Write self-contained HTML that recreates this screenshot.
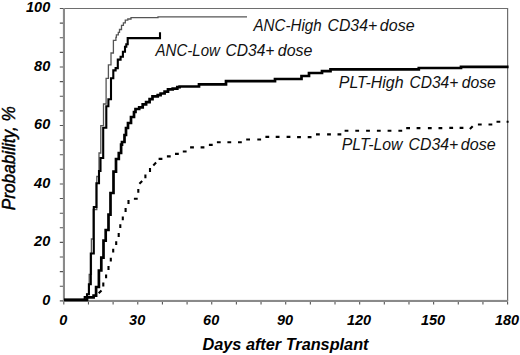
<!DOCTYPE html>
<html><head><meta charset="utf-8"><style>
html,body{margin:0;padding:0;background:#fff;width:520px;height:355px;overflow:hidden;}
svg{display:block;}
text{font-family:"Liberation Sans",sans-serif;}
</style></head><body>
<svg width="520" height="355" viewBox="0 0 520 355">
<rect width="520" height="355" fill="#fff"/>
<path d="M60,8.5 H507.6 V301" fill="none" stroke="#6e6e6e" stroke-width="1.2"/>
<rect x="62.9" y="8" width="2.1" height="294" fill="#8a8a8a"/>
<rect x="62.9" y="299.9" width="445.2" height="2.1" fill="#8a8a8a"/>
<path d="M59.8,300.90 H63 M59.8,286.28 H63 M59.8,271.66 H63 M59.8,257.04 H63 M59.8,242.42 H63 M59.8,227.80 H63 M59.8,213.18 H63 M59.8,198.56 H63 M59.8,183.94 H63 M59.8,169.32 H63 M59.8,154.70 H63 M59.8,140.08 H63 M59.8,125.46 H63 M59.8,110.84 H63 M59.8,96.22 H63 M59.8,81.60 H63 M59.8,66.98 H63 M59.8,52.36 H63 M59.8,37.74 H63 M59.8,23.12 H63 M59.8,8.50 H63" stroke="#555" stroke-width="1.1" fill="none"/>
<path d="M63.80,302 V304.5 M88.46,302 V304.5 M113.11,302 V304.5 M137.77,302 V304.5 M162.42,302 V304.5 M187.08,302 V304.5 M211.73,302 V304.5 M236.39,302 V304.5 M261.04,302 V304.5 M285.70,302 V304.5 M310.36,302 V304.5 M335.01,302 V304.5 M359.67,302 V304.5 M384.32,302 V304.5 M408.98,302 V304.5 M433.63,302 V304.5 M458.29,302 V304.5 M482.94,302 V304.5 M507.60,302 V304.5" stroke="#555" stroke-width="1.1" fill="none"/>
<path d="M64,299.8 H84.7 V297 H87 V294.2 H89.2 V274.3 H91.4 V239 H93.2 V209.5 H96.8 V176.5 H99 V153 H100.8 V125.6 H103.5 V104 H106.1 V78.3 H108.4 V64.9 H111 V53 H113.4 V40.3 H115.9 V37.4 H116.4 V34.9 H118.3 V32.4 H119.5 V29.5 H121.5 V25.3 H123.4 V22.8 H125.3 V20.2 H127.8 V19 H131 V17.7 H158 V16.8 H247" fill="none" stroke="#555" stroke-width="1.3" stroke-linejoin="miter"/>
<path d="M64,299.8 H84.7 V297 H87 V294.2 H88.9 V284.3 H90.8 V253.5 H93.8 V207 H96.4 V183.3 H99 V171 H100.5 V158 H103.2 V127.7 H106.3 V106.3 H108.4 V99.3 H111 V78.2 H113.3 V70.4 H115.6 V68.1 H117.8 V59.6 H120.6 V56.8 H122.9 V51.8 H125 V46.7 H126.3 V44.3 H127.7 V38.1 H160 V32.2" fill="none" stroke="#000" stroke-width="2.1" stroke-linejoin="miter"/>
<path d="M64,299.8 H87 V297.4 H93.6 V295.6 H96.1 V287 H98.9 V270.5 H101.3 V257.6 H103.5 V240.7 H105.7 V230 H108.5 V214.6 H110.5 V193 H113.5 V171.6 H116 V159 H118.8 V153 H121.1 V144.6 H122 V142 H124.5 V135 H126 V128 H128 V123 H131 V117 H134 V112 H135.5 V109 H139.2 V107.3 H142.7 V104.4 H146.1 V102.1 H149.6 V99.2 H152.5 V96.3 H157.7 V95.2 H160.6 V93.5 H164.6 V91.7 H168 V89.4 H172.7 V88.6 H177.3 V87.1 H179.6 V86.5 H199 V84.3 H226 V81.1 H275 V79 H301.5 V76 H309 V73 H322 V71.2 H330.5 V69.3 H418.8 V68 H461 V66.8 H508.6" fill="none" stroke="#000" stroke-width="2.7" stroke-linejoin="miter"/>
<path d="M98.70,293.30 l2.8,-2.8 M103.30,286.40 v-3.8 M106.10,278.30 v-3.8 M108.50,269.90 v-3.8 M110.80,261.50 v-3.8 M113.20,252.60 v-3.8 M116.20,245.10 v-3.8 M118.70,236.90 v-3.8 M120.30,228.10 v-3.8 M122.80,220.20 v-3.8 M125.60,211.90 v-3.8 M128.50,203.90 v-3.8 M133.90,198.70 h3.8 M138.30,192.70 v-3.8 M139.40,183.70 l2.8,-2.8 M145.40,178.30 v-3.8 M150.00,171.90 v-3.8 M153.30,165.40 l2.8,-2.8 M158.60,158.90 h3.8 M166.90,156.40 h3.8 M175.00,153.90 h3.8 M182.80,151.50 h3.8 M190.10,147.40 h3.8 M200.60,147.40 h3.8 M208.90,144.90 h3.8 M216.90,142.30 h3.8 M227.40,142.30 h3.8 M238.00,142.30 h3.8 M246.20,139.50 h3.8 M257.30,139.50 h3.8 M265.40,136.90 h3.8 M275.70,136.90 h3.8 M286.60,136.90 h3.8 M297.10,137.10 h3.8 M307.70,137.10 h3.8 M316.00,134.40 h3.8 M327.10,134.40 h3.8 M337.50,134.40 h3.8 M344.60,130.80 h3.8 M355.30,130.80 h3.8 M366.10,130.80 h3.8 M376.90,130.80 h3.8 M387.60,130.80 h3.8 M398.40,130.80 h3.8 M406.20,128.10 h3.8 M416.60,128.10 h3.8 M427.90,128.10 h3.8 M438.50,128.10 h3.8 M449.30,127.90 h3.8 M459.60,127.90 h3.8 M469.90,129.00 l2.8,-2.8 M477.90,124.50 h3.8 M488.50,124.50 h3.8 M496.50,121.80 h3.8 M506.60,121.80 h2" fill="none" stroke="#000" stroke-width="2.1"/>
<text transform="translate(50.2,12.40) scale(0.94,1)" font-family="Liberation Sans" font-weight="bold" font-style="italic" font-size="15.4" text-anchor="end">100</text>
<text transform="translate(50.2,70.88) scale(0.94,1)" font-family="Liberation Sans" font-weight="bold" font-style="italic" font-size="15.4" text-anchor="end">80</text>
<text transform="translate(50.2,129.36) scale(0.94,1)" font-family="Liberation Sans" font-weight="bold" font-style="italic" font-size="15.4" text-anchor="end">60</text>
<text transform="translate(50.2,187.84) scale(0.94,1)" font-family="Liberation Sans" font-weight="bold" font-style="italic" font-size="15.4" text-anchor="end">40</text>
<text transform="translate(50.2,246.32) scale(0.94,1)" font-family="Liberation Sans" font-weight="bold" font-style="italic" font-size="15.4" text-anchor="end">20</text>
<text transform="translate(50.2,304.80) scale(0.94,1)" font-family="Liberation Sans" font-weight="bold" font-style="italic" font-size="15.4" text-anchor="end">0</text>
<text transform="translate(63.20,324.5) scale(0.94,1)" font-family="Liberation Sans" font-weight="bold" font-style="italic" font-size="15.4" text-anchor="middle">0</text>
<text transform="translate(137.17,324.5) scale(0.94,1)" font-family="Liberation Sans" font-weight="bold" font-style="italic" font-size="15.4" text-anchor="middle">30</text>
<text transform="translate(211.13,324.5) scale(0.94,1)" font-family="Liberation Sans" font-weight="bold" font-style="italic" font-size="15.4" text-anchor="middle">60</text>
<text transform="translate(285.10,324.5) scale(0.94,1)" font-family="Liberation Sans" font-weight="bold" font-style="italic" font-size="15.4" text-anchor="middle">90</text>
<text transform="translate(359.07,324.5) scale(0.94,1)" font-family="Liberation Sans" font-weight="bold" font-style="italic" font-size="15.4" text-anchor="middle">120</text>
<text transform="translate(433.03,324.5) scale(0.94,1)" font-family="Liberation Sans" font-weight="bold" font-style="italic" font-size="15.4" text-anchor="middle">150</text>
<text transform="translate(507.00,324.5) scale(0.94,1)" font-family="Liberation Sans" font-weight="bold" font-style="italic" font-size="15.4" text-anchor="middle">180</text>
<text x="285.5" y="350" font-family="Liberation Sans" font-weight="bold" font-style="italic" font-size="16" text-anchor="middle" textLength="166" lengthAdjust="spacingAndGlyphs">Days after Transplant</text>
<text transform="translate(15.2,158.2) rotate(-90)" font-family="Liberation Sans" font-style="italic" stroke="#000" stroke-width="0.45" font-size="18.0" text-anchor="middle" textLength="104" lengthAdjust="spacingAndGlyphs">Probability, %</text>
<text transform="translate(253.50,30.7) scale(0.9714,1)" font-family="Liberation Sans" font-style="italic" font-size="15.6" fill="#111">ANC-High</text>
<text transform="translate(327.49,30.7) scale(1.0149,1)" font-family="Liberation Sans" font-style="italic" font-size="15.6" fill="#111">CD34+</text>
<text transform="translate(379.87,30.7) scale(1.0281,1)" font-family="Liberation Sans" font-style="italic" font-size="15.6" fill="#111">dose</text>
<text transform="translate(155.50,56.4) scale(0.9657,1)" font-family="Liberation Sans" font-style="italic" font-size="15.6" fill="#111">ANC-Low</text>
<text transform="translate(225.50,56.4) scale(1.0000,1)" font-family="Liberation Sans" font-style="italic" font-size="15.6" fill="#111">CD34+</text>
<text transform="translate(277.78,56.4) scale(1.0250,1)" font-family="Liberation Sans" font-style="italic" font-size="15.6" fill="#111">dose</text>
<text transform="translate(338.78,87.5) scale(1.0242,1)" font-family="Liberation Sans" font-style="italic" font-size="15.6" fill="#111">PLT-High</text>
<text transform="translate(409.40,87.5) scale(0.9979,1)" font-family="Liberation Sans" font-style="italic" font-size="15.6" fill="#111">CD34+</text>
<text transform="translate(461.69,87.5) scale(1.0094,1)" font-family="Liberation Sans" font-style="italic" font-size="15.6" fill="#111">dose</text>
<text transform="translate(341.78,150.3) scale(1.0153,1)" font-family="Liberation Sans" font-style="italic" font-size="15.6" fill="#111">PLT-Low</text>
<text transform="translate(408.59,150.3) scale(1.0149,1)" font-family="Liberation Sans" font-style="italic" font-size="15.6" fill="#111">CD34+</text>
<text transform="translate(460.87,150.3) scale(1.0344,1)" font-family="Liberation Sans" font-style="italic" font-size="15.6" fill="#111">dose</text>
</svg>
</body></html>
